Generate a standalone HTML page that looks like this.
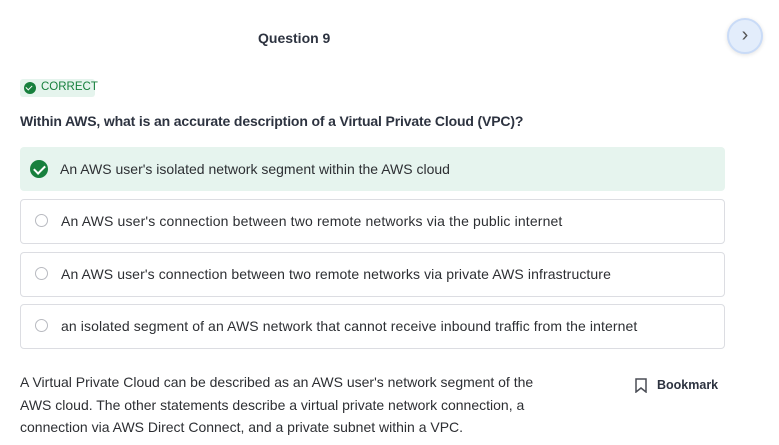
<!DOCTYPE html>
<html><head><style>
body{margin:0;width:779px;height:445px;background:#fff;font-family:"Liberation Sans",sans-serif;color:#2d2f33;position:relative;overflow:hidden}
.abs{position:absolute}
.opt{position:absolute;left:20px;width:703px;height:43px;border:1px solid #dcdde2;border-radius:4px;font-size:14px;line-height:43px}
.opt span{position:absolute;left:40px}
.rad{position:absolute;left:14px;top:14px;width:13px;height:13px;border:1px solid #b8bac0;border-radius:50%;box-sizing:border-box}
</style></head><body>
<div class="abs" style="left:258px;top:30px;font-size:14px;font-weight:bold;color:#2d3340">Question 9</div>
<div class="abs" style="left:727px;top:18px;width:36px;height:36px;border-radius:50%;background:#e3edfb;border:2px solid #c9dbf7;box-sizing:border-box;box-shadow:0 1px 4px rgba(0,0,0,.12);text-align:center;line-height:30px;color:#555;font-size:20px">&#8250;</div>
<div class="abs" style="left:20px;top:79px;width:75px;height:18px;background:#e5f4ed;border-radius:3px"></div>
<div class="abs" style="left:24px;top:82px;width:12px;height:12px;border-radius:50%;background:#17803d"></div>
<div class="abs" style="left:27px;top:84px;width:3px;height:5px;border-right:1.5px solid #fff;border-bottom:1.5px solid #fff;transform:rotate(45deg)"></div>
<div class="abs" style="left:41px;top:81px;font-size:11.5px;color:#17803d">CORRECT</div>
<div class="abs" style="left:20px;top:113px;font-size:14px;font-weight:bold;color:#2d3340;letter-spacing:-0.15px">Within AWS, what is an accurate description of a Virtual Private Cloud (VPC)?</div>
<div class="opt" style="top:147px;height:44px;border:none;width:705px;background:#e6f4ee;line-height:44px"><span>An AWS user's isolated network segment within the AWS cloud</span>
<div class="abs" style="left:10px;top:13px;width:18px;height:18px;border-radius:50%;background:#17803d"></div>
<div class="abs" style="left:16px;top:16px;width:5px;height:9px;border-right:2px solid #fff;border-bottom:2px solid #fff;transform:rotate(45deg)"></div></div>
<div class="opt" style="top:199px"><div class="rad"></div><span style="letter-spacing:0.15px">An AWS user's connection between two remote networks via the public internet</span></div>
<div class="opt" style="top:252px"><div class="rad"></div><span style="letter-spacing:0.1px">An AWS user's connection between two remote networks via private AWS infrastructure</span></div>
<div class="opt" style="top:304px"><div class="rad"></div><span style="letter-spacing:0.1px">an isolated segment of an AWS network that cannot receive inbound traffic from the internet</span></div>
<div class="abs" style="left:20px;top:371px;width:540px;font-size:14px;line-height:22.5px">A Virtual Private Cloud can be described as an AWS user's network segment of the AWS cloud. The other statements describe a virtual private network connection, a connection via AWS Direct Connect, and a private subnet within a VPC.</div>
<svg class="abs" style="left:635px;top:378px" width="12" height="15"><path d="M1 1H11V14L6 10L1 14Z" fill="none" stroke="#4a4d55" stroke-width="1.5"/></svg>
<div class="abs" style="left:657px;top:378px;font-size:12.5px;font-weight:bold;color:#2d3340">Bookmark</div>
</body></html>
